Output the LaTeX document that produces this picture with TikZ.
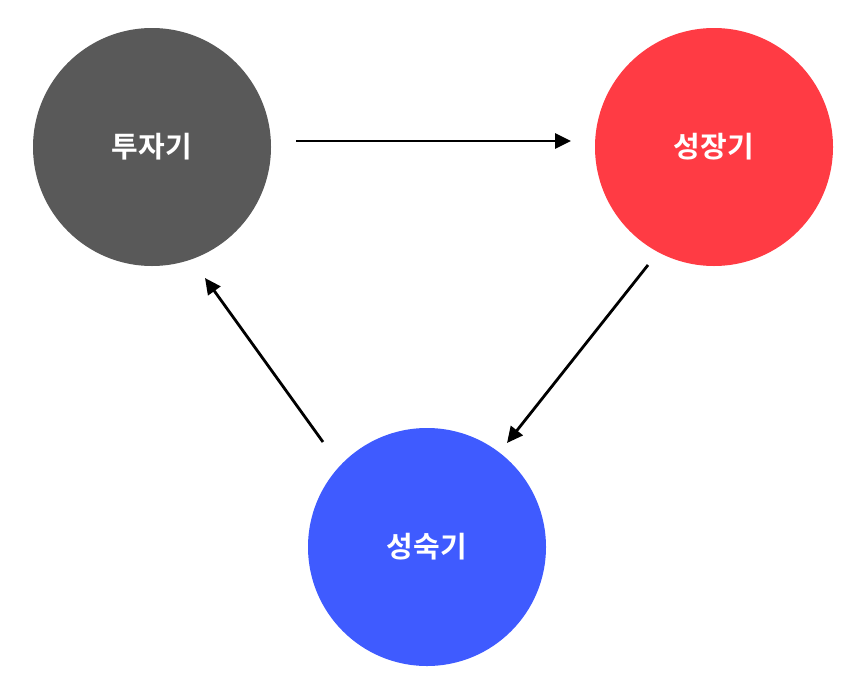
\documentclass[tikz,border=0pt]{standalone}
\usepackage{fontspec}
\newfontfamily\kr{Noto Sans CJK KR}[BoldFont={* Bold}]
\usetikzlibrary{arrows.meta}
\definecolor{cgray}{HTML}{595959}
\definecolor{cred}{HTML}{FF3B44}
\definecolor{cblue}{HTML}{3F5BFF}
\begin{document}
\begin{tikzpicture}[x=1pt,y=-1pt,
  stage/.style={circle,minimum size=238pt,inner sep=0pt,text=white,font=\kr\bfseries\fontsize{29}{34}\selectfont},
  conn/.style={line width=2.8pt,-{Triangle[length=16pt,width=15pt]}}]
\useasboundingbox[fill=white] (0,0) rectangle (862,691);
\node[stage,fill=cgray] (a) at (152,147) {투자기};
\node[stage,fill=cred] (b) at (714,147) {성장기};
\node[stage,fill=cblue] (c) at (427,547) {성숙기};
\coordinate (a1) at (296,141);
\coordinate (b1) at (571,141);
\coordinate (b2) at (648,265);
\coordinate (c2) at (507,443);
\coordinate (c3) at (323,442);
\coordinate (a3) at (205,278);
\draw[conn] (a1) -- (b1);
\draw[conn] (b2) -- (c2);
\draw[conn] (c3) -- (a3);
\end{tikzpicture}
\end{document}
